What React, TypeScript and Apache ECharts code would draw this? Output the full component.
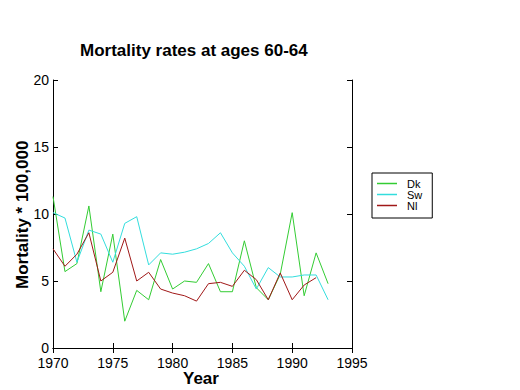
import React, { useEffect, useRef } from "react";
import * as echarts from "echarts";

const years = [1970, 1971, 1972, 1973, 1974, 1975, 1976, 1977, 1978, 1979, 1980, 1981, 1982, 1983, 1984, 1985, 1986, 1987, 1988, 1989, 1990, 1991, 1992, 1993];
const dk = [11.3, 5.7, 6.3, 10.6, 4.2, 8.5, 2.0, 4.3, 3.6, 6.6, 4.4, 5.0, 4.9, 6.3, 4.2, 4.2, 8.0, 4.5, 3.6, 5.5, 10.1, 3.9, 7.1, 4.8];
const sw = [10.1, 9.7, 6.4, 8.8, 8.5, 6.4, 9.3, 9.8, 6.2, 7.1, 7.0, 7.15, 7.4, 7.8, 8.6, 7.1, 6.1, 4.4, 6.0, 5.3, 5.3, 5.45, 5.45, 3.6];
const nl = [7.4, 6.1, 7.0, 8.6, 5.0, 5.65, 8.2, 5.0, 5.65, 4.4, 4.1, 3.9, 3.5, 4.8, 4.9, 4.6, 5.8, 5.1, 3.6, 5.6, 3.6, 4.7, 5.25];
const xTicks = { min: 1970, max: 1995, interval: 5 };
const yTicks = { min: 0, max: 20, interval: 5 };

const FONT = "'Liberation Sans', Arial, sans-serif";

export default function App() {
  const ref = useRef<HTMLDivElement>(null);
  useEffect(() => {
    if (!ref.current) return;
    const chart = echarts.init(ref.current, null, { renderer: "svg" });
    const pair = (vals: number[]) => vals.map((v, i) => [years[i], v]);
    const axisCommon = {
      axisLine: { show: true, lineStyle: { color: "#000", width: 1 } },
      axisTick: { show: true, inside: true, length: 5, lineStyle: { color: "#000" } },
      splitLine: { show: false },
    };
    chart.setOption({
      animation: false,
      backgroundColor: "#fff",
      textStyle: { fontFamily: FONT },
      grid: { left: 53, right: 168, top: 80, bottom: 42, show: false },
      xAxis: [
        {
          type: "value", position: "bottom", ...xTicks, ...axisCommon,
          axisLabel: { color: "#000", fontSize: 14, lineHeight: 11, fontFamily: FONT, margin: 9, formatter: (v: number) => String(v) },
        },
        {
          type: "value", position: "top", ...xTicks, ...axisCommon,
          axisLabel: { show: false },
        },
      ],
      yAxis: [
        {
          type: "value", position: "left", ...yTicks, ...axisCommon,
          axisLabel: { color: "#000", fontSize: 14, lineHeight: 11, fontFamily: FONT, margin: 4 },
        },
        {
          type: "value", position: "right", ...yTicks, ...axisCommon,
          axisLabel: { show: false },
        },
      ],
      legend: {
        orient: "vertical",
        left: 372,
        top: 173,
        width: 57,
        padding: [5, 10, 7, 5],
        itemGap: 0,
        itemWidth: 20,
        itemHeight: 1.5,
        icon: "rect",
        borderColor: "#000",
        borderWidth: 1,
        backgroundColor: "#fff",
        textStyle: { color: "#000", fontSize: 11, lineHeight: 11, fontFamily: FONT, padding: [0, 0, 0, 5] },
        data: ["Dk", "Sw", "Nl"],
      },
      series: [
        { name: "Dk", type: "line", data: pair(dk), symbol: "none", lineStyle: { color: "#33cc33", width: 1 }, itemStyle: { color: "#33cc33" } },
        { name: "Sw", type: "line", data: pair(sw), symbol: "none", lineStyle: { color: "#33dddd", width: 1 }, itemStyle: { color: "#33dddd" } },
        { name: "Nl", type: "line", data: pair(nl), symbol: "none", lineStyle: { color: "#a01818", width: 1 }, itemStyle: { color: "#a01818" } },
      ],
      graphic: [
        { type: "text", left: 80, top: 42, style: { text: "Mortality rates at ages 60-64", font: `bold 17px ${FONT}`, fill: "#000" } },
        { type: "text", left: 183, top: 370, style: { text: "Year", font: `bold 17px ${FONT}`, fill: "#000" } },
        {
          type: "text", x: 14, y: 289, rotation: Math.PI / 2,
          style: { text: "Mortality * 100,000", font: `bold 17px ${FONT}`, fill: "#000", textVerticalAlign: "top" },
        },
      ],
    });
    return () => chart.dispose();
  }, []);
  return <div ref={ref} style={{ position: "absolute", left: 0, top: 0, width: 520, height: 390 }} />;
}
